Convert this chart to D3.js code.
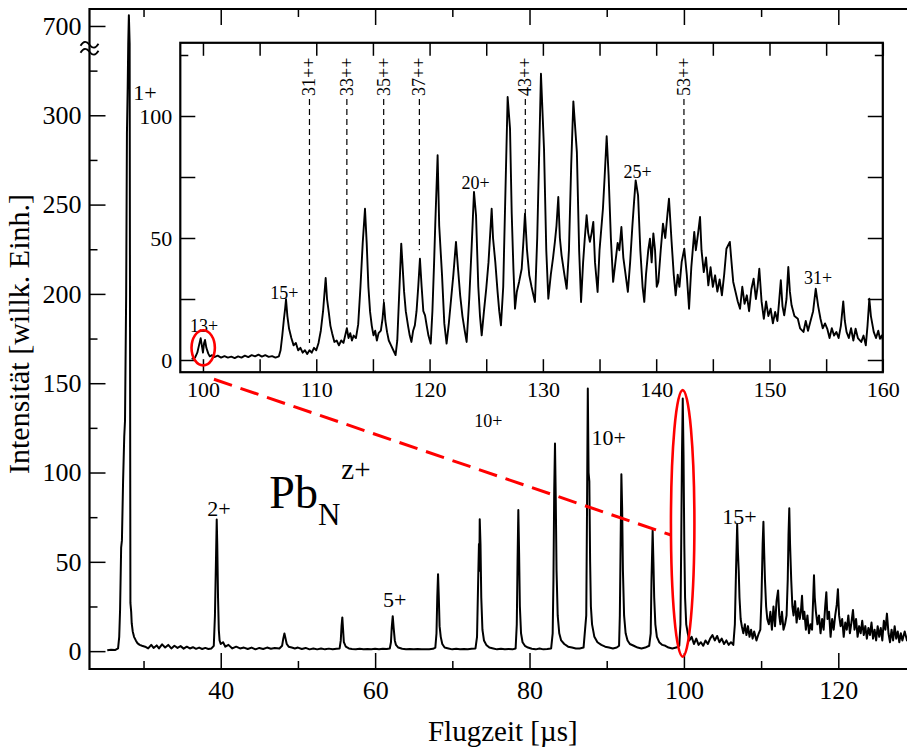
<!DOCTYPE html>
<html>
<head>
<meta charset="utf-8">
<script src="https://cdn.jsdelivr.net/npm/d3@7"></script>
<style>
  html, body { margin: 0; padding: 0; background: #fff; }
  svg { display: block; }
  text { font-family: "Liberation Serif", "Times New Roman", serif; fill: #000; }
</style>
</head>
<body>
<svg id="chart" width="907" height="749"></svg>
<script>
// ---- Main time-of-flight spectrum (flight time in µs, intensity in arb. units)
const mainSpectrum = [
  [25.3,0.5],[25.8,0.8],[26.3,0.6],[26.7,1.5],[26.85,8],[26.96,23],[27.1,58],[27.2,62],[27.35,95],[27.5,120],[27.6,129],[27.75,200],[27.85,290],[27.95,316],
  [28.02,690],[28.1,706],[28.2,690],[28.3,27],[28.4,22],[28.47,15.5],[28.6,11],[28.77,8],[29.0,6],[29.2,4.5],[29.5,3.5],[29.8,3],
  [30.2,2.5],[30.6,1.5],[31.0,3.5],[31.3,1.8],[31.7,3.2],[32.0,1.5],[32.4,3.8],[32.8,2],[33.2,3.5],[33.6,1.5],[34.0,3],[34.4,1.8],[34.8,2.8],
  [35.2,1.4],[35.6,2.5],[36.0,1.5],[36.4,2.2],[36.8,1.3],[37.2,2],[37.6,1.2],[38.0,1.8],[38.4,1.2],[38.8,1.5],
  [39.1,3],[39.25,20],[39.4,55],[39.48,73.7],[39.55,60],[39.65,30],[39.75,12],[39.85,6],[40.0,4],[40.3,5],[40.6,2.5],[41,3.5],[41.5,1.5],
  [42,2.5],[42.5,1.5],[43,2],[43.5,1.2],[44,2],[44.5,1],[45,1.8],[45.5,1.2],[46,2],[46.5,1.3],[47,1.8],[47.6,1.5],
  [47.95,3],[48.1,7],[48.25,9.9],[48.4,7],[48.55,4],[48.8,2.5],[49.2,2],[49.6,1.5],[50,2],[50.5,1.2],[51,1.8],[51.5,1],[52,1.5],[52.5,1],
  [53,1.5],[53.5,1],[54,1.4],[54.5,1],[55,1.3],[55.4,1.5],
  [55.55,6],[55.65,14],[55.75,18.9],[55.85,12],[55.95,5],[56.2,2.5],[56.6,1.5],[57,1.2],[57.5,1],[58,1.3],[58.5,1],[59,1.2],[59.5,1],
  [60,1.3],[60.5,1],[61,1.3],[61.5,1.2],[61.9,1.5],
  [62.05,5],[62.15,13],[62.28,19.6],[62.4,13],[62.55,6],[62.7,3.5],[63,2],[63.5,1.3],[64,1],[64.5,1.2],[65,1],[65.5,1.2],[66,1],[66.5,1.1],
  [67,1],[67.5,1.3],[67.8,2],
  [67.95,10],[68.05,30],[68.15,43.1],[68.25,30],[68.35,14],[68.5,8],[68.7,4],[69,2],[69.5,1.5],[70,1],[70.5,1.3],[71,1],[71.5,1.2],[72,1],
  [72.5,1.3],[73,1.5],
  [73.2,8],[73.35,40],[73.45,60],[73.5,45],[73.55,73.9],[73.65,60],[73.75,30],[73.9,12],[74.1,6],[74.4,3.5],[74.8,2],[75.3,1.5],[75.8,1],
  [76.3,1.3],[76.8,1],[77.3,1.2],[77.8,1],[78.2,1.5],
  [78.35,15],[78.45,50],[78.55,79],[78.65,55],[78.75,25],[78.9,10],[79.1,5],[79.4,3],[79.8,2],[80.3,1.3],[80.8,1],[81.3,1.5],[81.8,1],
  [82.3,1.2],[82.8,1.5],
  [83.0,10],[83.1,40],[83.2,90],[83.3,116.3],[83.4,85],[83.5,45],[83.65,20],[83.85,10],[84.1,6],[84.5,4],[85,2.5],[85.5,2],[86,1.5],
  [86.5,1.5],[87,2],
  [87.35,20],[87.45,80],[87.55,147],[87.65,100],[87.75,95],[87.85,50],[87.95,25],[88.1,15],[88.4,8],[88.8,5],[89.3,3.5],[89.8,2.5],
  [90.3,2],[90.8,1.5],[91.3,2],[91.6,3],
  [91.7,20],[91.8,60],[91.9,99],[92.0,80],[92.1,45],[92.25,20],[92.45,10],[92.7,6],[93,4],[93.5,3],[94,2],[94.5,1.5],[95,2],[95.5,3],
  [95.7,10],[95.8,40],[95.95,67.7],[96.05,50],[96.15,30],[96.3,15],[96.5,8],[96.8,5],[97.2,3.5],[97.6,3],[98,2],[98.5,1.5],[99,2],[99.4,3],
  [99.55,15],[99.65,60],[99.75,110],[99.85,141.5],[99.95,110],[100.05,60],[100.15,30],[100.3,15],[100.5,10],
  [100.7,6],[101,8],[101.3,4],[101.6,7],[101.9,3.5],[102.2,5],[102.5,3],[102.8,6],[103.1,4],[103.4,7],[103.7,9],[104,6],[104.3,8.5],
  [104.6,5],[104.9,7],[105.2,4],[105.5,6],[105.8,3.5],[106.1,5],[106.4,3.5],
  [106.6,15],[106.75,45],[106.9,71],[107.0,55],[107.1,45],[107.2,30],[107.35,18],[107.5,14],[107.7,10],[107.9,15],[108.1,9],[108.3,14],
  [108.5,8],[108.7,12],[108.9,7],[109.1,11],[109.4,6],[109.7,10],[109.9,12],
  [110.05,30],[110.2,60],[110.3,72.4],[110.4,55],[110.5,40],[110.65,25],[110.8,18],[111.0,15],[111.2,22],[111.4,12],[111.6,25],[111.8,14],
  [112.0,28],[112.2,34],[112.35,20],[112.5,15],[112.7,22],[112.9,12],[113.1,15],[113.3,20],[113.45,40],
  [113.55,65],[113.65,80],[113.75,60],[113.9,40],[114.05,25],[114.2,20],[114.4,28],[114.6,16],[114.8,24],[115.0,18],[115.15,22],[115.3,31],
  [115.45,18],[115.6,22],[115.8,12],[116.0,20],[116.2,10],[116.4,15],[116.6,12],[116.75,30],[116.85,42.5],[116.95,30],[117.1,22],[117.3,15],
  [117.5,20],[117.7,10],[117.9,18],[118.1,12],[118.3,25],[118.45,33],[118.6,18],[118.8,22],[119.0,8],[119.2,18],[119.4,12],[119.6,20],
  [119.8,26],[119.95,34.7],[120.1,20],[120.3,14],[120.5,18],[120.7,8],[120.9,16],[121.1,12],[121.3,20],[121.5,10],[121.7,16],[121.9,23],
  [122.1,12],[122.3,18],[122.5,8],[122.7,14],[122.9,10],[123.1,17],[123.3,9],[123.5,14],[123.7,7],[123.9,13],[124.1,9],[124.3,16],
  [124.5,7],[124.7,12],[124.9,6],[125.1,14],[125.3,8],[125.5,13],[125.7,6],[125.9,17],[126.1,12],[126.3,21],[126.5,10],[126.7,5],
  [126.9,12],[127.1,6],[127.3,14],[127.5,7],[127.7,11],[127.9,5],[128.1,10],[128.3,6],[128.6,11],[128.9,6],[129.3,9]
];

// ---- Zoomed section of the spectrum (inset)
const insetSpectrum = [
  [99.0,0.5],[99.3,1],[99.5,3],[99.65,6],[99.8,8.9],[99.9,6],[100.0,3],[100.1,7],[100.18,8.2],[100.3,5],[100.47,2.6],[100.6,1.5],
  [100.8,2],[101.0,1.2],[101.3,1.8],[101.6,1],[101.9,1.6],[102.2,1],[102.5,1.4],[102.8,0.8],[103.1,1.5],[103.4,1],[103.7,1.8],[104.0,1.2],
  [104.3,2],[104.6,1.5],[104.9,2.2],[105.2,1.4],[105.5,2],[105.8,1.3],[106.1,1.6],[106.4,1],[106.7,1.5],
  [106.85,4],[107.0,10],[107.15,17],[107.25,21],[107.33,24.9],[107.45,18],[107.6,12.8],[107.8,9],[108.0,6],[108.2,7],[108.4,4],[108.6,5],
  [108.8,3],[109.0,4],[109.2,2.5],[109.4,4],[109.6,3],[109.8,5],[110.0,4],[110.2,7],[110.4,12],[110.6,20],[110.83,33.6],[110.95,25],
  [111.1,19.7],[111.25,14],[111.4,11],[111.6,7.4],[111.8,8],[112.0,6],[112.2,8],[112.4,7],[112.6,11],[112.7,13],[112.85,9],[113.0,11],
  [113.15,8],[113.3,10],[113.5,9],[113.7,14.6],[113.9,30],[114.1,48],[114.3,62],[114.45,48],[114.6,30],[114.75,19.7],[114.9,14],
  [115.05,10.1],[115.2,12],[115.35,8],[115.5,11],[115.7,12],[115.85,17],[115.97,23.5],[116.1,16],[116.25,11.4],[116.4,8],[116.6,6],
  [116.8,4],[117.0,2],[117.15,8],[117.3,25],[117.5,47.7],[117.6,40],[117.75,28],[117.9,20],[118.1,14],[118.25,10],[118.4,7.4],[118.55,12],
  [118.7,14.2],[118.85,20],[119.0,30],[119.15,41.5],[119.3,30],[119.45,20],[119.6,18.3],[119.75,14],[119.9,10],[120.1,6.7],[120.25,20],
  [120.4,40],[120.5,55.2],[120.71,83.9],[120.85,55],[121.1,34.7],[121.3,15],[121.5,6.7],[121.7,15],[121.9,25],[122.1,35],[122.33,48.4],
  [122.5,38],[122.7,26.5],[122.9,18],[123.1,12],[123.27,7.4],[123.5,25],[123.7,45],[123.92,68.9],[124.1,59.3],[124.3,30],[124.45,18],
  [124.6,10.1],[124.8,20],[125.0,29.2],[125.2,40],[125.48,62],[125.6,50],[125.8,40.2],[126.0,28],[126.15,20],[126.3,14.2],[126.5,30],
  [126.7,70],[126.89,107.8],[127.1,94.8],[127.25,60],[127.4,37.4],[127.54,21],[127.7,28],[127.9,32],[128.13,37.4],[128.3,50],[128.42,60],
  [128.6,45],[128.8,34.7],[129.0,30],[129.3,23.8],[129.5,50],[129.7,90],[129.83,117.3],[130.1,86.6],[130.3,45],[130.48,25.1],[130.7,35],
  [130.9,42],[131.06,48.4],[131.2,55],[131.36,66.8],[131.5,50],[131.65,42.9],[131.9,35],[132.1,29.2],[132.3,45],[132.5,80],[132.69,106],
  [133.0,85.2],[133.2,45],[133.37,23.8],[133.55,40],[133.7,50],[133.86,59.3],[134.0,52],[134.15,48.4],[134.3,52],[134.45,56.6],[134.6,40],
  [134.83,27.9],[135.0,45],[135.3,62],[135.45,75],[135.63,91.7],[135.8,75.7],[136.0,50],[136.2,32],[136.4,40],[136.6,48],[136.75,45],
  [136.93,54.5],[137.1,42],[137.3,35],[137.5,27.9],[137.7,40],[137.9,55],[138.05,65],[138.19,73.6],[138.4,67.5],[138.6,45],[138.8,30],
  [138.95,23.8],[139.1,35],[139.3,45],[139.45,49.7],[139.6,40],[139.75,51.9],[139.9,45],[140.05,30],[140.19,32],[140.4,45],[140.6,55.9],
  [140.8,50],[141.0,60],[141.13,66.1],[141.36,48.4],[141.55,35],[141.72,26.5],[141.9,35],[142.05,30],[142.25,40.2],[142.48,45.6],
  [142.7,35],[142.9,21],[143.1,38],[143.36,52.5],[143.5,45],[143.7,52],[143.87,58.6],[144.0,45],[144.2,36],[144.4,42],[144.6,30.6],
  [144.8,38],[145.0,30],[145.2,34.7],[145.4,28],[145.6,33],[145.8,26.5],[146.0,35],[146.2,45.6],[146.5,48.4],[146.65,40],[146.8,32],
  [147.0,28],[147.2,24],[147.4,21],[147.6,30],[147.8,23],[148.0,26.5],[148.2,20],[148.4,29],[148.6,33.3],[148.8,25],[148.95,30],
  [149.1,37.4],[149.3,24],[149.5,16.9],[149.7,24],[149.9,18],[150.1,21],[150.3,15],[150.5,19.7],[150.7,16],[150.85,24],[151.0,32.7],
  [151.15,22],[151.3,18.3],[151.5,25],[151.66,38.1],[151.8,28],[151.95,22.4],[152.2,18],[152.5,16.9],[152.7,13],[153.0,11.5],[153.2,16],
  [153.4,12],[153.6,15.6],[153.85,20],[154.08,29.2],[154.3,22],[154.5,16.9],[154.7,13],[154.9,15],[155.1,12.8],[155.3,9],[155.5,13],
  [155.7,10],[155.9,11.5],[156.1,9],[156.3,14],[156.51,24],[156.65,16],[156.8,11.5],[157.0,9],[157.2,13],[157.4,8],[157.6,12.8],
  [157.8,9],[158.1,7.4],[158.3,10],[158.5,6],[158.65,14],[158.81,25.1],[158.95,18],[159.2,11.5],[159.4,9],[159.6,12],[159.75,8.7],
  [159.9,10],[160.05,7.4]
];

// ---- Axis ticks
const mainXMajor = [40, 60, 80, 100, 120];
const mainXMinor = [30, 50, 70, 90, 110, 130];
const mainYMajor = [0, 50, 100, 150, 200, 250, 300, 700];
const mainYMinor = [25, 75, 125, 175, 225, 275, 325];
const insetXTicks = [100, 105, 110, 115, 120, 125, 130, 135, 140, 145, 150, 155, 160];
const insetXLabels = [100, 110, 120, 130, 140, 150, 160];
const insetYTicks = [0, 25, 50, 75, 100];
const insetYMinor = [125];
const insetYLabels = [0, 50, 100];

// ---- Charge-state annotations: [label, time, intensity]
const mainPeakLabels = [["1+", 30.19, 308.5], ["2+", 39.78, 75.6], ["5+", 62.54, 24.6], ["10+", 90.27, 115.3], ["15+", 107.2, 71.1]];
const mainSmallLabels = [["10+", 74.66, 125.4]];
const insetPeakLabels = [["13+", 100.09, 11.5], ["15+", 107.19, 25.1], ["20+", 124.05, 70.1], ["25+", 138.35, 74.6], ["31+", 154.28, 31.3]];
// Doubly charged clusters: [label, time, intensity where the marker ends]
const dimerMarkers = [["31++", 109.4, 7], ["33++", 112.7, 13.5], ["35++", 115.95, 23.8], ["37++", 119.1, 45], ["43++", 128.45, 60], ["53++", 142.45, 46]];
const markerTop = 107;

// ---- Highlighted peak at 100 µs (ellipse extents in data units)
const insetHighlight = { x: [98.99, 101.05], y: [-2.2, 12.2] };
const mainHighlight = { x: [98.32, 101.36], y: [-3.1, 146.1] };
const linkStart = [100.97, -7.9];   // inset coordinates
const linkEnd = [98.33, 65];        // main coordinates

const svg = d3.select("#chart");

// ---- Scales
const M = { left: 89.5, right: 915.5, top: 9, bottom: 669 };
const xMain = d3.scaleLinear().domain([23, 130]).range([M.left, M.right]);
// Broken intensity axis: values between 337.5 and 687.5 are cut out
const yLin = d3.scaleLinear().domain([-10, 359.5]).range([M.bottom, M.top]);
const yMain = d3.scaleLinear()
  .domain([-10, 337.5, 687.5, 709.5])
  .range([yLin(-10), yLin(337.5), yLin(337.5), yLin(359.5)]);

const I = { left: 180.3, right: 882.8, top: 42.8, bottom: 372.2 };
const xIn = d3.scaleLinear().domain([98, 160]).range([I.left, I.right]);
const yIn = d3.scaleLinear().domain([-5, 130]).range([I.bottom, I.top]);

const defs = svg.append("defs");
defs.append("clipPath").attr("id", "clipMain").append("rect")
  .attr("x", M.left).attr("y", M.top).attr("width", M.right - M.left).attr("height", M.bottom - M.top);
defs.append("clipPath").attr("id", "clipInset").append("rect")
  .attr("x", I.left).attr("y", I.top).attr("width", I.right - I.left).attr("height", I.bottom - I.top);

function styleAxis(g, fontSize) {
  g.select(".domain").remove();
  g.selectAll(".tick line").attr("stroke", "#000").attr("stroke-width", 1.5);
  g.selectAll(".tick text").attr("font-size", fontSize)
    .attr("font-family", "'Liberation Serif', 'Times New Roman', serif").attr("fill", "#000");
}

// ---- Main spectrum
const lineMain = d3.line().x(d => xMain(d[0])).y(d => yMain(d[1]));
svg.append("path").datum(mainSpectrum)
  .attr("clip-path", "url(#clipMain)")
  .attr("d", lineMain).attr("fill", "none").attr("stroke", "#000")
  .attr("stroke-width", 2).attr("stroke-linejoin", "round");

// Main axes (ticks pointing inward)
const gxB = svg.append("g").attr("transform", `translate(0,${M.bottom})`)
  .call(d3.axisBottom(xMain).tickValues(mainXMajor).tickSizeInner(-16).tickSizeOuter(0).tickPadding(12).tickFormat(d3.format("d")));
styleAxis(gxB, 26);
gxB.selectAll(".tick text").attr("dy", "0.71em");
const gxBm = svg.append("g").attr("transform", `translate(0,${M.bottom})`)
  .call(d3.axisBottom(xMain).tickValues(mainXMinor).tickSizeInner(-8).tickSizeOuter(0).tickFormat(""));
styleAxis(gxBm, 0);
const gxT = svg.append("g").attr("transform", `translate(0,${M.top})`)
  .call(d3.axisTop(xMain).tickValues(mainXMajor).tickSizeInner(-16).tickSizeOuter(0).tickFormat(""));
styleAxis(gxT, 0);
const gxTm = svg.append("g").attr("transform", `translate(0,${M.top})`)
  .call(d3.axisTop(xMain).tickValues(mainXMinor).tickSizeInner(-8).tickSizeOuter(0).tickFormat(""));
styleAxis(gxTm, 0);

const gyL = svg.append("g").attr("transform", `translate(${M.left},0)`)
  .call(d3.axisLeft(yMain).tickValues(mainYMajor).tickSizeInner(-16).tickSizeOuter(0).tickPadding(8).tickFormat(d3.format("d")));
styleAxis(gyL, 26);
const gyLm = svg.append("g").attr("transform", `translate(${M.left},0)`)
  .call(d3.axisLeft(yMain).tickValues(mainYMinor).tickSizeInner(-8).tickSizeOuter(0).tickFormat(""));
styleAxis(gyLm, 0);

// Main frame
svg.append("path")
  .attr("d", `M${M.right},${M.top}H${M.left}V${M.bottom}H${M.right}`)
  .attr("fill", "none").attr("stroke", "#000").attr("stroke-width", 2.2);

// Axis break mark: two wavy strokes across the intensity axis
const breakY = yMain(337.5);
[-3.5, 3.5].forEach(off => {
  const x0 = M.left - 9, y0 = breakY + off;
  svg.append("path")
    .attr("d", `M${x0},${y0 + 1}C${x0 + 3},${y0 - 4} ${x0 + 6},${y0 - 4} ${x0 + 9},${y0}S${x0 + 15},${y0 + 4} ${x0 + 18},${y0 - 1}`)
    .attr("fill", "none").attr("stroke", "#000").attr("stroke-width", 1.8);
});

// Axis titles
svg.append("text").attr("x", 502.8).attr("y", 741).attr("text-anchor", "middle")
  .attr("font-size", 29).text("Flugzeit [µs]");
svg.append("text").attr("transform", "translate(29,334) rotate(-90)").attr("text-anchor", "middle")
  .attr("font-size", 30).text("Intensität [willk. Einh.]");

// Main peak labels
svg.selectAll("text.mpl").data(mainPeakLabels).join("text").attr("class", "mpl")
  .attr("x", d => xMain(d[1])).attr("y", d => yMain(d[2])).attr("text-anchor", "middle")
  .attr("font-size", 22).text(d => d[0]);
svg.selectAll("text.msl").data(mainSmallLabels).join("text").attr("class", "msl")
  .attr("x", d => xMain(d[1])).attr("y", d => yMain(d[2])).attr("text-anchor", "middle")
  .attr("font-size", 18).text(d => d[0]);

// Species label Pb_N^z+
const pb = svg.append("text").attr("x", xMain(46.3)).attr("y", yMain(80.1)).attr("font-size", 46);
pb.append("tspan").text("Pb");
pb.append("tspan").attr("dy", 17).attr("font-size", 31).text("N");
pb.append("tspan").attr("dy", -46).attr("dx", 1).attr("font-size", 29).text("z+");

// ---- Inset
svg.append("rect").attr("x", I.left).attr("y", I.top)
  .attr("width", I.right - I.left).attr("height", I.bottom - I.top).attr("fill", "#fff");

// Dashed markers for doubly charged clusters
const mk = svg.append("g");
mk.selectAll("line").data(dimerMarkers).join("line")
  .attr("x1", d => xIn(d[1])).attr("x2", d => xIn(d[1]))
  .attr("y1", yIn(markerTop)).attr("y2", d => yIn(d[2]))
  .attr("stroke", "#000").attr("stroke-width", 1.2).attr("stroke-dasharray", "6,4");
mk.selectAll("text").data(dimerMarkers).join("text")
  .attr("transform", d => `translate(${xIn(d[1]) + 6},${yIn(markerTop) - 3}) rotate(-90)`)
  .attr("font-size", 18).text(d => d[0]);

const lineIn = d3.line().x(d => xIn(d[0])).y(d => yIn(d[1]));
svg.append("path").datum(insetSpectrum)
  .attr("clip-path", "url(#clipInset)")
  .attr("d", lineIn).attr("fill", "none").attr("stroke", "#000")
  .attr("stroke-width", 1.9).attr("stroke-linejoin", "round");

const ixB = svg.append("g").attr("transform", `translate(0,${I.bottom})`)
  .call(d3.axisBottom(xIn).tickValues(insetXTicks).tickSizeInner(-13).tickSizeOuter(0)
    .tickFormat(d => insetXLabels.includes(d) ? d3.format("d")(d) : "").tickPadding(9));
styleAxis(ixB, 22);
ixB.selectAll(".tick text").attr("dy", "0.71em");
const ixT = svg.append("g").attr("transform", `translate(0,${I.top})`)
  .call(d3.axisTop(xIn).tickValues(insetXTicks).tickSizeInner(-13).tickSizeOuter(0).tickFormat(""));
styleAxis(ixT, 0);
const iyL = svg.append("g").attr("transform", `translate(${I.left},0)`)
  .call(d3.axisLeft(yIn).tickValues(insetYTicks).tickSizeInner(-15).tickSizeOuter(0).tickPadding(8)
    .tickFormat(d => insetYLabels.includes(d) ? d3.format("d")(d) : ""));
styleAxis(iyL, 22);
const iyLm = svg.append("g").attr("transform", `translate(${I.left},0)`)
  .call(d3.axisLeft(yIn).tickValues(insetYMinor).tickSizeInner(-8).tickSizeOuter(0).tickFormat(""));
styleAxis(iyLm, 0);
const iyR = svg.append("g").attr("transform", `translate(${I.right},0)`)
  .call(d3.axisRight(yIn).tickValues(insetYTicks).tickSizeInner(-15).tickSizeOuter(0).tickFormat(""));
styleAxis(iyR, 0);
const iyRm = svg.append("g").attr("transform", `translate(${I.right},0)`)
  .call(d3.axisRight(yIn).tickValues(insetYMinor).tickSizeInner(-8).tickSizeOuter(0).tickFormat(""));
styleAxis(iyRm, 0);
svg.append("rect").attr("x", I.left).attr("y", I.top)
  .attr("width", I.right - I.left).attr("height", I.bottom - I.top)
  .attr("fill", "none").attr("stroke", "#000").attr("stroke-width", 2.2);

svg.selectAll("text.ipl").data(insetPeakLabels).join("text").attr("class", "ipl")
  .attr("x", d => xIn(d[1])).attr("y", d => yIn(d[2])).attr("text-anchor", "middle")
  .attr("font-size", 18).text(d => d[0]);

// ---- Red highlight of the peak at 100 µs and the zoom link
function ellipse(box, xs, ys) {
  const cx = (xs(box.x[0]) + xs(box.x[1])) / 2, cy = (ys(box.y[0]) + ys(box.y[1])) / 2;
  svg.append("ellipse").attr("cx", cx).attr("cy", cy)
    .attr("rx", Math.abs(xs(box.x[1]) - xs(box.x[0])) / 2)
    .attr("ry", Math.abs(ys(box.y[1]) - ys(box.y[0])) / 2)
    .attr("fill", "none").attr("stroke", "#f00").attr("stroke-width", 2.6);
}
ellipse(insetHighlight, xIn, yIn);
ellipse(mainHighlight, xMain, yMain);
svg.append("line")
  .attr("x1", xIn(linkStart[0])).attr("y1", yIn(linkStart[1]))
  .attr("x2", xMain(linkEnd[0])).attr("y2", yMain(linkEnd[1]))
  .attr("stroke", "#f00").attr("stroke-width", 3).attr("stroke-dasharray", "19,9");
</script>
</body>
</html>
